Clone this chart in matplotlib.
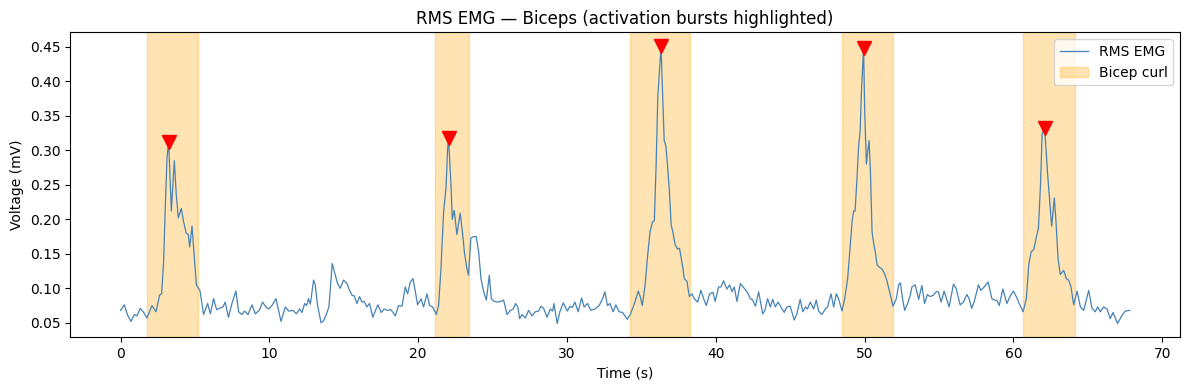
import matplotlib
matplotlib.use("Agg")
import matplotlib.pyplot as plt

# RMS envelope (time in s, value in mV)
time_s = [
    0.0, 0.25, 0.47, 0.70, 0.92, 1.10, 1.32, 1.55, 1.77, 2.11, 2.38, 2.62, 2.76, 2.89, 3.0, 3.12, 3.23,
    3.41, 3.61, 3.74, 3.88, 4.08, 4.23, 4.41, 4.55, 4.64, 4.80, 4.91, 5.09, 5.24, 5.33, 5.58, 5.85,
    6.03, 6.25, 6.45, 6.65, 6.88, 7.03, 7.25, 7.48, 7.75, 7.93, 8.15, 8.33, 8.56, 8.83, 9.05, 9.32,
    9.54, 9.77, 9.95, 10.17, 10.44, 10.78, 11.07, 11.29, 11.59, 11.81, 12.03, 12.19, 12.37, 12.5,
    12.63, 12.75,
    12.97, 13.08, 13.24, 13.47, 13.64, 13.82, 14.0, 14.22, 14.43, 14.58, 14.76, 14.98, 15.21, 15.39,
    15.55, 15.7, 15.88, 16.06, 16.22, 16.37, 16.55, 16.73, 16.95, 17.11, 17.29, 17.51, 17.71, 17.94,
    18.17, 18.46, 18.68, 18.91, 19.13, 19.29, 19.47, 19.65, 19.81, 19.96,
    20.19, 20.36, 20.59, 20.77, 20.97, 21.22, 21.37, 21.53, 21.71, 21.87, 21.97, 22.04, 22.2, 22.29,
    22.42, 22.6, 22.82, 22.97, 23.11, 23.27, 23.38, 23.54, 23.72, 23.9, 24.06, 24.22, 24.4, 24.58,
    24.78, 24.91, 25.11, 25.33, 25.56, 25.74, 25.97, 26.19, 26.37, 26.55, 26.69,
    26.82, 26.98, 27.2, 27.42, 27.65, 27.87, 28.09, 28.25, 28.43, 28.66, 28.88, 29.04, 29.12, 29.34,
    29.52, 29.75, 30.02, 30.2, 30.35, 30.53, 30.75, 30.98, 31.15, 31.38, 31.6, 31.87, 32.16, 32.39,
    32.54, 32.72, 32.88, 33.1, 33.28, 33.5,
    33.73, 34.05, 34.27, 34.5, 34.63, 34.79, 34.92, 35.06, 35.25, 35.4, 35.58, 35.74, 35.87, 35.99,
    36.1, 36.32, 36.42, 36.53, 36.64, 36.75, 36.88, 37.0, 37.11, 37.27, 37.43, 37.56, 37.68, 37.79,
    37.88, 38.06, 38.22, 38.4, 38.55, 38.78, 39.0, 39.18, 39.36,
    39.58, 39.81, 39.96, 40.19, 40.35, 40.52, 40.75, 40.93, 41.09, 41.24, 41.42, 41.65, 41.87, 42.1,
    42.32, 42.48, 42.66, 42.88, 43.15, 43.3, 43.48, 43.66, 43.82, 44.0, 44.18, 44.38, 44.6, 44.78,
    45.0, 45.27, 45.45, 45.67, 45.85, 46.03, 46.16, 46.35, 46.57,
    46.75, 46.91, 47.13, 47.36, 47.51, 47.74, 47.92, 48.1, 48.25, 48.48, 48.66, 48.86, 49.0, 49.16,
    49.26, 49.36, 49.49, 49.6, 49.7, 49.79, 49.93, 50.01, 50.12, 50.21, 50.3, 50.39, 50.5, 50.61,
    50.73, 50.84, 51.02, 51.17, 51.33, 51.51, 51.68, 51.91, 52.13, 52.29, 52.4, 52.55, 52.69, 52.89,
    53.07, 53.18, 53.4,
    53.63, 53.85, 54.03, 54.22, 54.4, 54.63, 54.8, 54.96, 55.14, 55.34, 55.5, 55.68, 55.97, 56.15,
    56.42, 56.64, 56.87, 57.02, 57.2, 57.36, 57.65, 57.81, 58.04, 58.3, 58.55, 58.77, 58.9, 59.05,
    59.29, 59.56, 59.79, 60.0, 60.24,
    60.35, 60.65, 60.87, 61.03, 61.19, 61.37, 61.55, 61.68, 61.82, 61.93, 62.1, 62.17, 62.3, 62.44,
    62.57, 62.75, 62.86, 63.0, 63.15, 63.38, 63.56, 63.71, 63.87, 64.05, 64.28, 64.5, 64.72, 65.06,
    65.28, 65.5, 65.66, 65.84, 66.06, 66.29, 66.51, 66.69, 67.0, 67.3, 67.52, 67.81,
]
rms_mv = [
    0.068, 0.076, 0.061, 0.052, 0.062, 0.060, 0.071, 0.065, 0.057, 0.075, 0.066, 0.090, 0.092, 0.139, 0.216, 0.290, 0.312,
    0.212, 0.285, 0.236, 0.202, 0.216, 0.197, 0.180, 0.178, 0.160, 0.190, 0.158, 0.105, 0.100, 0.097, 0.062, 0.078,
    0.063, 0.085, 0.069, 0.071, 0.073, 0.080, 0.058, 0.078, 0.096, 0.066, 0.062, 0.067, 0.062, 0.076, 0.063, 0.068,
    0.080, 0.073, 0.070, 0.075, 0.085, 0.052, 0.073, 0.067, 0.068, 0.063, 0.070, 0.065, 0.078, 0.075,
    0.085, 0.077,
    0.112, 0.105, 0.075, 0.050, 0.053, 0.062, 0.073, 0.136, 0.119, 0.107, 0.100, 0.112, 0.107, 0.097,
    0.090, 0.089, 0.078, 0.088, 0.080, 0.081, 0.073, 0.078, 0.058, 0.067, 0.076, 0.065, 0.070, 0.068,
    0.069, 0.060, 0.075, 0.074, 0.102, 0.092, 0.109, 0.114, 0.095, 0.076,
    0.085, 0.073, 0.092, 0.075, 0.073, 0.062, 0.075, 0.129, 0.212, 0.246, 0.300, 0.318, 0.251, 0.200,
    0.213, 0.178, 0.209, 0.182, 0.151, 0.129, 0.119, 0.173, 0.175, 0.175, 0.153, 0.114, 0.095, 0.083,
    0.119, 0.085, 0.081, 0.080, 0.081, 0.083, 0.062, 0.068, 0.070, 0.078, 0.073,
    0.056, 0.062, 0.057, 0.068, 0.060, 0.066, 0.067, 0.074, 0.071, 0.058, 0.070, 0.067, 0.078, 0.049,
    0.066, 0.079, 0.067, 0.074, 0.072, 0.080, 0.066, 0.086, 0.073, 0.078, 0.068, 0.070, 0.075, 0.085,
    0.095, 0.075, 0.078, 0.066, 0.076, 0.066,
    0.065, 0.055, 0.063, 0.076, 0.085, 0.096, 0.088, 0.075, 0.105, 0.143, 0.182, 0.196, 0.198, 0.280,
    0.377, 0.451, 0.387, 0.314, 0.307, 0.280, 0.241, 0.192, 0.182, 0.163, 0.157, 0.158, 0.143, 0.129,
    0.114, 0.110, 0.088, 0.092, 0.085, 0.080, 0.097, 0.085, 0.075,
    0.092, 0.094, 0.081, 0.102, 0.102, 0.111, 0.099, 0.105, 0.095, 0.102, 0.081, 0.107, 0.101, 0.095,
    0.085, 0.083, 0.074, 0.095, 0.063, 0.068, 0.085, 0.073, 0.084, 0.073, 0.080, 0.073, 0.065, 0.073,
    0.074, 0.054, 0.063, 0.084, 0.066, 0.073, 0.070, 0.080, 0.070,
    0.083, 0.067, 0.062, 0.070, 0.073, 0.092, 0.073, 0.092, 0.085, 0.067, 0.085, 0.114, 0.153, 0.197,
    0.212, 0.212, 0.260, 0.307, 0.328, 0.387, 0.449, 0.353, 0.280, 0.299, 0.314, 0.270, 0.182, 0.165,
    0.151, 0.134, 0.130, 0.128, 0.122, 0.110, 0.095, 0.074, 0.085, 0.105, 0.108, 0.085, 0.068, 0.078,
    0.090, 0.102, 0.105,
    0.084, 0.104, 0.078, 0.091, 0.088, 0.090, 0.095, 0.095, 0.080, 0.096, 0.085, 0.073, 0.106, 0.100,
    0.076, 0.080, 0.091, 0.085, 0.071, 0.080, 0.105, 0.097, 0.102, 0.109, 0.085, 0.083, 0.082, 0.075,
    0.099, 0.078, 0.089, 0.096, 0.086,
    0.080, 0.066, 0.085, 0.134, 0.153, 0.156, 0.175, 0.187, 0.250, 0.324, 0.332, 0.309, 0.265, 0.226,
    0.190, 0.231, 0.197, 0.143, 0.120, 0.126, 0.114, 0.112, 0.102, 0.076, 0.096, 0.073, 0.068, 0.097,
    0.071, 0.066, 0.073, 0.066, 0.073, 0.070, 0.056, 0.065, 0.049, 0.061, 0.067, 0.068,
]

# highlighted bicep-curl windows (s)
burst_start = [1.78, 21.15, 34.25, 48.5, 60.66]
burst_end = [5.17, 23.42, 38.27, 51.9, 64.12]

# detected peaks
peak_t = [3.23, 22.04, 36.32, 49.93, 62.1]
peak_v = [0.312, 0.318, 0.451, 0.449, 0.332]

fig, ax = plt.subplots(figsize=(11.89, 3.9), dpi=100)

ax.plot(time_s, rms_mv, color="steelblue", linewidth=0.9, label="RMS EMG")
for i, (s, e) in enumerate(zip(burst_start, burst_end)):
    ax.axvspan(s, e, color="orange", alpha=0.3, label="Bicep curl" if i == 0 else None)
ax.plot(peak_t, peak_v, "v", color="red", markersize=10)

ax.set_title("RMS EMG \u2014 Biceps (activation bursts highlighted)")
ax.set_xlabel("Time (s)")
ax.set_ylabel("Voltage (mV)")
ax.legend(loc="upper right")

# match the reference's tight crop
fig.subplots_adjust(left=0.059, right=0.9925, top=0.917, bottom=0.135)
fig.savefig("out.png", dpi=100)
